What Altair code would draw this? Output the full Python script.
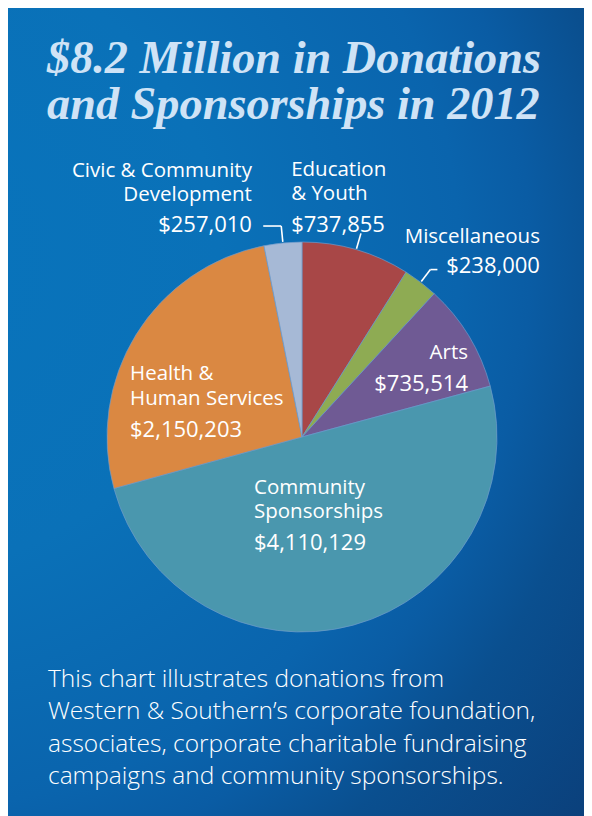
import altair as alt
import pandas as pd

# ---------------- data ----------------
categories = ["Education & Youth", "Miscellaneous", "Arts",
              "Community Sponsorships", "Health & Human Services",
              "Civic & Community Development"]
amounts = [737855, 238000, 735514, 4110129, 2150203, 257010]
slice_colors = ["#a84747", "#8eab53", "#6f5a94", "#4a97ae", "#da8842", "#a6b9d6"]
label_lines = [["Education", "& Youth"], ["Miscellaneous"], ["Arts"],
               ["Community", "Sponsorships"], ["Health &", "Human Services"],
               ["Civic & Community", "Development"]]

title_lines = ["$8.2 Million in Donations", "and Sponsorships in 2012"]
note_lines = ["This chart illustrates donations from",
              "Western & Southern\u2019s corporate foundation,",
              "associates, corporate charitable fundraising",
              "campaigns and community sponsorships."]

# ---------------- layout ----------------
W, H = 576, 808
CX, CY, R = 294, 429, 195
LABEL_FONT = "Open Sans"

# anchor radius, alignment, x offset, first name-line y offset, value y offset
layout = {
    "Education & Youth": dict(r=212, align="left", dx=-69.8, dy=-57.3, vdy=-1.6),
    "Miscellaneous": dict(r=211, align="right", dx=109.5, dy=-26.9, vdy=3.1),
    "Arts": dict(r=150, align="right", dx=37.7, dy=0, vdy=31.7),
    "Community Sponsorships": dict(r=80, align="left", dx=-69, dy=-20.2, vdy=35.8),
    "Health & Human Services": dict(r=120, align="left", dx=-69.9, dy=6.3, vdy=62.8),
    "Civic & Community Development": dict(r=212, align="right", dx=-29.3, dy=-49.3, vdy=6.3),
}
# leader end radius, horizontal elbow length
leaders = {"Education & Youth": (212, 0),
           "Miscellaneous": (211, 7),
           "Civic & Community Development": (212, -18)}

df = pd.DataFrame({"category": categories, "amount": amounts,
                   "order": list(range(len(categories)))})

nox = dict(scale=None, axis=None)

# background panel (radial gradient, focus just off the left edge)
bg_gradient = {
    "gradient": "radial",
    "x1": 0.02, "y1": 0.31, "r1": 0,
    "x2": 0.02, "y2": 0.31, "r2": 1.1,
    "stops": [
        {"offset": 0.0, "color": "#0874bc"},
        {"offset": 0.35, "color": "#0a71b8"},
        {"offset": 0.62, "color": "#0a64ad"},
        {"offset": 0.70, "color": "#0a5ca4"},
        {"offset": 0.80, "color": "#0a4f8f"},
        {"offset": 1.0, "color": "#0b3f7a"},
    ],
}
bg = alt.Chart(pd.DataFrame({"k": [0]})).mark_rect(color=bg_gradient).encode(
    x=alt.value(0), x2=alt.value(W), y=alt.value(0), y2=alt.value(H))

arcs = alt.Chart(df).mark_arc(radius=R, stroke="#6f9bcb", strokeWidth=0.7).encode(
    theta=alt.Theta("amount:Q", stack=True),
    color=alt.Color("category:N", scale=alt.Scale(domain=categories, range=slice_colors), legend=None),
    order=alt.Order("order:Q"),
    x=alt.value(CX), y=alt.value(CY),
)

base = (alt.Chart(df)
        .transform_window(cum="sum(amount)", sort=[alt.SortField("order")], frame=[None, 0])
        .transform_joinaggregate(total="sum(amount)")
        .transform_calculate(mid="(datum.cum - datum.amount / 2) / datum.total * 2 * PI"))

layers = [bg, arcs]

for cat, (re, elbow) in leaders.items():
    seg = base.transform_filter(alt.datum.category == cat).transform_calculate(
        x0=f"{CX} + {R + 1} * sin(datum.mid)", y0=f"{CY} - {R + 1} * cos(datum.mid)",
        x1=f"{CX} + {re} * sin(datum.mid)", y1=f"{CY} - {re} * cos(datum.mid)",
    ).transform_calculate(xe=f"datum.x1 + ({elbow})")
    layers.append(seg.mark_rule(color="white", strokeWidth=1.6).encode(
        x=alt.X("x0:Q", **nox), y=alt.Y("y0:Q", **nox), x2="x1:Q", y2="y1:Q"))
    if elbow:
        layers.append(seg.mark_rule(color="white", strokeWidth=1.6).encode(
            x=alt.X("x1:Q", **nox), y=alt.Y("y1:Q", **nox), x2="xe:Q"))

for cat, lines in zip(categories, label_lines):
    lay = layout[cat]
    anc = base.transform_filter(alt.datum.category == cat).transform_calculate(
        px=f"{CX} + {lay['r']} * sin(datum.mid)", py=f"{CY} - {lay['r']} * cos(datum.mid)")
    layers.append(anc.mark_text(align=lay["align"], baseline="alphabetic", dx=lay["dx"], dy=lay["dy"],
                                font=LABEL_FONT, fontSize=20.5, lineHeight=24.4, color="white").encode(
        x=alt.X("px:Q", **nox), y=alt.Y("py:Q", **nox), text=alt.value(lines)))
    layers.append(anc.mark_text(align=lay["align"], baseline="alphabetic", dx=lay["dx"], dy=lay["vdy"],
                                font=LABEL_FONT, fontSize=22, color="white").encode(
        x=alt.X("px:Q", **nox), y=alt.Y("py:Q", **nox),
        text=alt.Text("amount:Q", format="$,.0f")))

one = pd.DataFrame({"k": [0]})
title = alt.Chart(one).mark_text(align="left", baseline="alphabetic", font="Liberation Serif",
                                 fontStyle="italic", fontWeight="bold", fontSize=46.3,
                                 lineHeight=46, color="#cfe3f6").encode(
    x=alt.value(39), y=alt.value(65), text=alt.value(title_lines))
note = alt.Chart(one).mark_text(align="left", baseline="alphabetic", font=LABEL_FONT,
                                fontWeight=300, fontSize=24.5, lineHeight=32.3, color="white").encode(
    x=alt.value(40), y=alt.value(679), text=alt.value(note_lines))
layers += [title, note]

chart = alt.layer(*layers).properties(
    width=W, height=H, padding=0, autosize="none", background="white"
).configure_view(strokeWidth=0)

chart.save("out.html", embed_options={"renderer": "svg", "actions": False})
